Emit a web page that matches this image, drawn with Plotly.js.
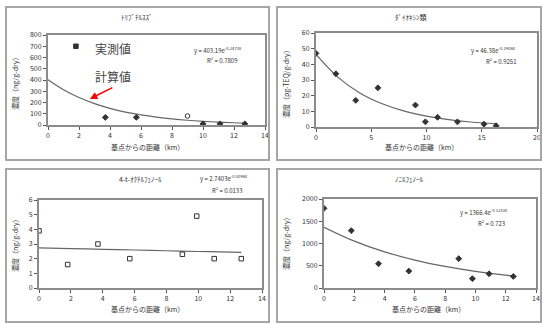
<!DOCTYPE html>
<html>
<head>
<meta charset="utf-8">
<script src="https://cdn.plot.ly/plotly-3.0.1.min.js"></script>
<style>html,body{margin:0;padding:0;background:#fff;}#chart{width:542px;height:324px;}</style>
</head>
<body>
<div id="chart"></div>
<script>
// ---- data ----
// Panel 1: トリブチルスズ
const tbtX = [1.8, 3.7, 5.7, 9.0, 10.0, 11.1, 12.7];
const tbtY = [700, 68, 68, 80, 10, 10, 10];
const tbtFitX = [0, 1, 2, 3, 4, 5, 6, 7, 8, 9, 10, 11, 12, 12.7];
const tbtFitY = [403, 314, 244, 190, 148, 115, 90, 70, 54, 42, 33, 26, 20, 17];
// Panel 2: ダイオキシン類
const dxnX = [0, 1.8, 3.6, 5.6, 9.0, 9.9, 11.0, 12.8, 15.2, 16.3];
const dxnY = [47, 34, 17, 25, 14, 3.3, 6.2, 3.3, 1.8, 0.8];
const dxnFitX = [0, 2, 4, 6, 8, 10, 12, 14, 16.4];
const dxnFitY = [46.4, 31.7, 21.6, 14.8, 10.1, 6.9, 4.7, 3.2, 2.0];
// Panel 3: 4-t-オクチルフェノール
const opX = [0, 1.8, 3.7, 5.7, 9.0, 9.9, 11.0, 12.7];
const opY = [3.9, 1.6, 3.0, 2.0, 2.3, 4.9, 2.0, 2.0];
const opFitX = [0, 2, 4, 6, 8, 10, 12, 12.7];
const opFitY = [2.74, 2.69, 2.64, 2.59, 2.54, 2.49, 2.45, 2.43];
// Panel 4: ノニルフェノール
const npX = [0, 1.8, 3.6, 5.6, 8.9, 9.8, 10.9, 12.5];
const npY = [1790, 1290, 545, 380, 660, 210, 320, 260];
const npFitX = [0, 2, 4, 6, 8, 10, 12, 12.7];
const npFitY = [1366, 1054, 813, 627, 484, 373, 288, 262];

const titles = ['ﾄﾘﾌﾞﾁﾙｽｽﾞ', 'ﾀﾞｲｵｷｼﾝ類', '4-t-ｵｸﾁﾙﾌｪﾉｰﾙ', 'ﾉﾆﾙﾌｪﾉｰﾙ'];
const yTitles = ['濃度（ng/g-dry）', '濃度（pg-TEQ/g-dry）', '濃度（ng/g-dry）', '濃度（ng/g-dry）'];
const xTitle = '基点からの距離（km）';
const eqs = ['y = 403.19e<sup>-0.2473x</sup>', 'y = 46.38e<sup>-0.1906x</sup>', 'y = 2.7403e<sup>-0.0096x</sup>', 'y = 1366.4e<sup>-0.1283x</sup>'];
const r2s = ['R<sup>2</sup> = 0.7809', 'R<sup>2</sup> = 0.9251', 'R<sup>2</sup> = 0.0133', 'R<sup>2</sup> = 0.723'];

// ---- layout helpers ----
const W = 542, H = 324;
const px = v => v / W;
const py = v => 1 - v / H;
const FONT = '"Noto Sans CJK JP", "Noto Sans", sans-serif';

function ptTrace(x, y, n, symbols) {
  return {x: x, y: y, xaxis: 'x' + n, yaxis: 'y' + n, type: 'scatter', mode: 'markers',
    marker: {symbol: symbols || 'diamond', size: 4.5, color: '#333', line: {color: '#333', width: 1}}, hoverinfo: 'x+y'};
}
function fitTrace(x, y, n) {
  return {x: x, y: y, xaxis: 'x' + n, yaxis: 'y' + n, type: 'scatter', mode: 'lines',
    line: {color: '#666', width: 1.2, shape: 'spline'}, hoverinfo: 'skip'};
}

const data = [
  fitTrace(tbtFitX, tbtFitY, ''), ptTrace(tbtX, tbtY, '', ['square', 'diamond', 'diamond', 'circle-open', 'diamond', 'diamond', 'diamond']),
  fitTrace(dxnFitX, dxnFitY, 2), ptTrace(dxnX, dxnY, 2),
  fitTrace(opFitX, opFitY, 3), ptTrace(opX, opY, 3, 'square-open'),
  fitTrace(npFitX, npFitY, 4), ptTrace(npX, npY, 4),
];
data[0].xaxis = 'x'; data[0].yaxis = 'y'; data[1].xaxis = 'x'; data[1].yaxis = 'y';

function axis(dom, range, dtick, anchor) {
  return {domain: dom, range: range, dtick: dtick, anchor: anchor, showline: true, mirror: true,
    linecolor: '#8c8c8c', linewidth: 2, showgrid: false, zeroline: false, ticks: 'outside',
    ticklen: 3, tickcolor: '#555', tickfont: {size: 7, color: '#333', family: FONT}, fixedrange: true};
}

const boxes = [
  {x0: 48, x1: 265, y0: 35, y1: 125},
  {x0: 316, x1: 537, y0: 33, y1: 127},
  {x0: 39, x1: 262, y0: 200, y1: 288},
  {x0: 324, x1: 536, y0: 199, y1: 288},
];
const frames = [
  {x0: 6, x1: 269, y0: 7, y1: 160},
  {x0: 277, x1: 541, y0: 7, y1: 160},
  {x0: 6, x1: 269, y0: 169, y1: 322},
  {x0: 277, x1: 541, y0: 169, y1: 322},
];

const layout = {
  width: W, height: H, margin: {l: 0, r: 0, t: 0, b: 0},
  paper_bgcolor: '#fff', plot_bgcolor: '#fff', showlegend: false,
  font: {family: FONT, size: 7, color: '#333'},
  xaxis: axis([px(boxes[0].x0), px(boxes[0].x1)], [0, 14], 2, 'y'),
  yaxis: axis([py(boxes[0].y1), py(boxes[0].y0)], [0, 800], 100, 'x'),
  xaxis2: axis([px(boxes[1].x0), px(boxes[1].x1)], [0, 20], 5, 'y2'),
  yaxis2: axis([py(boxes[1].y1), py(boxes[1].y0)], [0, 60], 10, 'x2'),
  xaxis3: axis([px(boxes[2].x0), px(boxes[2].x1)], [0, 14], 2, 'y3'),
  yaxis3: axis([py(boxes[2].y1), py(boxes[2].y0)], [0, 6], 1, 'x3'),
  xaxis4: axis([px(boxes[3].x0), px(boxes[3].x1)], [0, 14], 2, 'y4'),
  yaxis4: axis([py(boxes[3].y1), py(boxes[3].y0)], [0, 2000], 500, 'x4'),
  shapes: frames.map(f => ({type: 'rect', xref: 'paper', yref: 'paper',
    x0: px(f.x0), x1: px(f.x1), y0: py(f.y1), y1: py(f.y0), line: {color: '#a6a6a6', width: 2}})),
  annotations: []
};

const titlePos = [[137, 17], [411, 17], [140, 179], [409, 179]];
const yTitlePos = [[15, 82], [286, 82], [15, 244], [286, 242]];
const xTitlePos = [[147, 147], [421, 147], [147, 309], [428, 309]];
const eqPos = [[218, 50], [493, 50], [224, 178], [484, 212]];
const r2Pos = [[222, 60], [501, 61], [227, 190], [491, 223]];
const A = (t, x, y, extra) => Object.assign({text: t, xref: 'paper', yref: 'paper', x: px(x), y: py(y),
  showarrow: false, xanchor: 'center', yanchor: 'middle', font: {size: 7, color: '#333', family: FONT}}, extra || {});
for (let i = 0; i < 4; i++) {
  layout.annotations.push(A(titles[i], titlePos[i][0], titlePos[i][1]));
  layout.annotations.push(A(yTitles[i], yTitlePos[i][0], yTitlePos[i][1], {textangle: -90}));
  layout.annotations.push(A(xTitle, xTitlePos[i][0], xTitlePos[i][1]));
  layout.annotations.push(A(eqs[i], eqPos[i][0], eqPos[i][1], {font: {size: 6, color: '#333', family: FONT}}));
  layout.annotations.push(A(r2s[i], r2Pos[i][0], r2Pos[i][1], {font: {size: 6, color: '#333', family: FONT}}));
}
layout.annotations.push(A('実測値', 113, 48, {font: {size: 12, color: '#444', family: FONT}}));
layout.annotations.push(A('計算値', 113, 77, {font: {size: 12, color: '#444', family: FONT}}));
layout.annotations.push({text: '', xref: 'x', yref: 'y', x: 2.7, y: 232, ax: 24, ay: -12,
  showarrow: true, arrowhead: 2, arrowsize: 1, arrowwidth: 1.5, arrowcolor: '#ff0000'});

Plotly.newPlot('chart', data, layout, {displayModeBar: false, staticPlot: true});
</script>
</body>
</html>
